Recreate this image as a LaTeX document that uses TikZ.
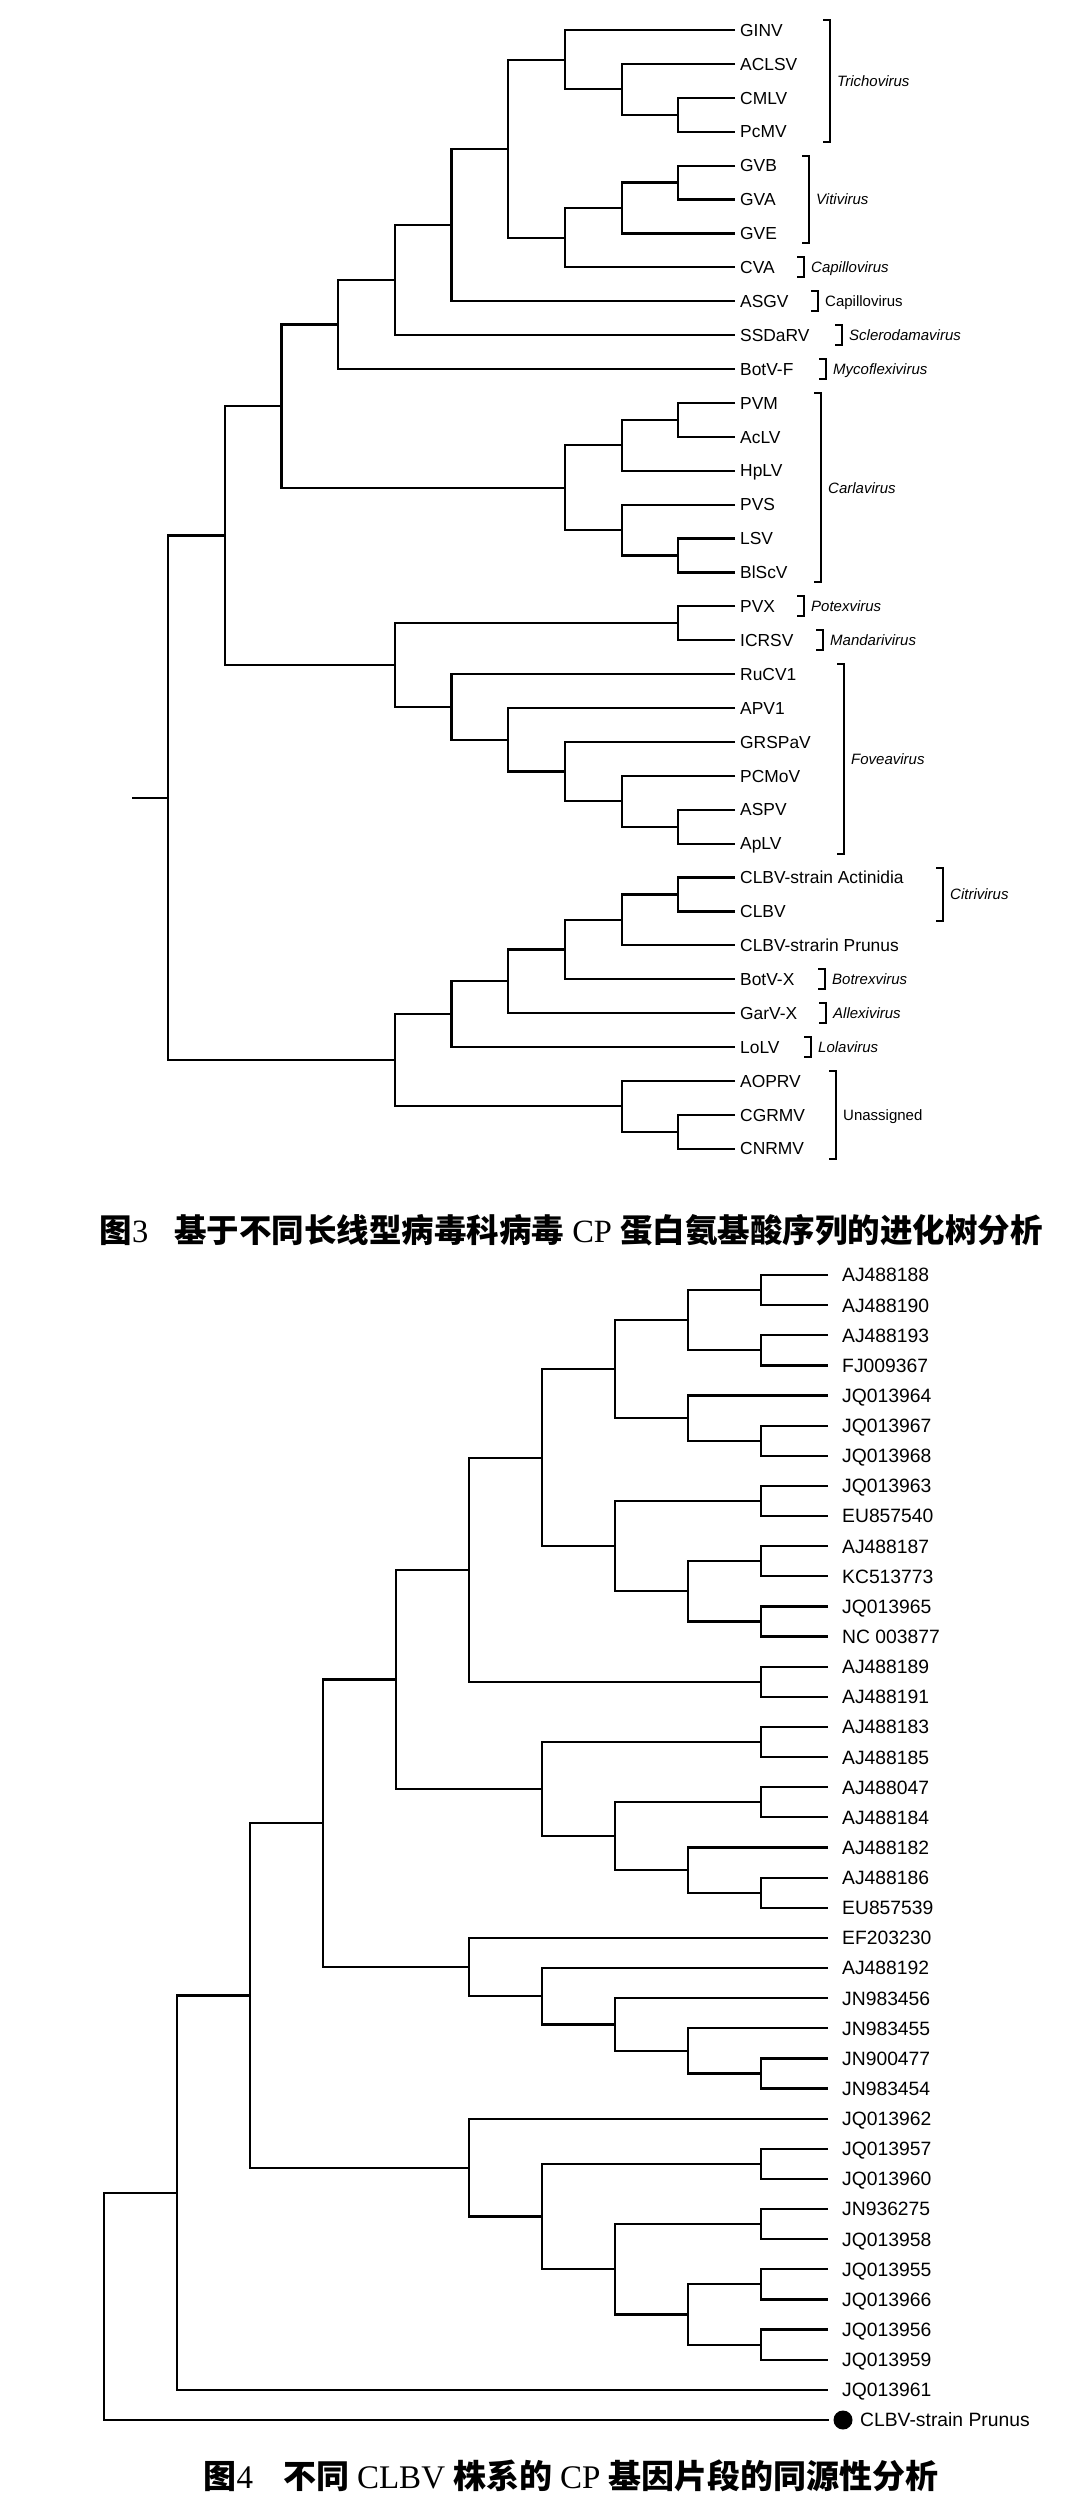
\documentclass[tikz,border=0pt]{standalone}
\usepackage{fontspec}
\setmainfont{Liberation Sans}
\newfontfamily\cjk{Noto Sans CJK SC}
\newfontfamily\tms{Liberation Serif}
\usetikzlibrary{calc,positioning}
\tikzset{branch/.style={line width=2.2pt},bracket/.style={line width=2pt},
leafa/.style={anchor=west,inner xsep=5pt,inner ysep=0pt,text height=12.5pt,text depth=0pt,font=\fontsize{17.4}{17.4}\selectfont},
leafb/.style={anchor=west,inner xsep=14pt,inner ysep=0pt,text height=13.8pt,text depth=0pt,font=\fontsize{19.3}{19.3}\selectfont},
genus/.style={anchor=west,inner sep=0pt,text height=10.7pt,text depth=0pt,font=\fontsize{15}{15}\selectfont\itshape},
upright/.style={font=\fontsize{15}{15}\selectfont\upshape},
caption/.style={anchor=base,inner sep=0pt}}
\newcommand\clade[4]{\path ($(#3)!.5!(#4)$) coordinate (m);\coordinate (#1) at (#2 |- m);\draw[branch] (#3) -| (#1) |- (#4);}
\newcommand\genus[6]{\coordinate (#1) at (#2,0);
\draw[bracket] ($(#1 |- #3)+(-7,-10)$) -- ($(#1 |- #3)+(0,-10)$) -- ($(#1 |- #4)+(0,10)$) -- ($(#1 |- #4)+(-7,10)$);
\node[genus,#5] (#1t) at ($(#1 |- #3)!.5!(#1 |- #4)+(7,0)$) {#6};}
\newcommand\lat[1]{{\tms\mdseries #1}}

\begin{document}
\begin{tikzpicture}[x=1pt,y=-1pt]
\fill[white] (0,0) rectangle (1083,2505);
\useasboundingbox (0,0) rectangle (1083,2505);
\foreach \k in {0,...,9}{\coordinate (A\k) at (168+56.7*\k,0);\coordinate (M\k) at (104+73*\k,0);}
% Fig. 3
\foreach \lab [count=\i] in {GINV,ACLSV,CMLV,PcMV,GVB,GVA,GVE,CVA,ASGV,SSDaRV,BotV-F,PVM,AcLV,HpLV,PVS,LSV,BlScV,PVX,ICRSV,RuCV1,APV1,GRSPaV,PCMoV,ASPV,ApLV,CLBV-strain Actinidia,CLBV,CLBV-strarin Prunus,BotV-X,GarV-X,LoLV,AOPRV,CGRMV,CNRMV}
{\node[leafa] (a\i) at (735,30+33.9*\i-33.9) {\lab};}
\clade{p1}{A9}{a3}{a4}\clade{p2}{A8}{a2}{p1}\clade{p3}{A7}{a1}{p2}
\clade{p4}{A9}{a5}{a6}\clade{p5}{A8}{p4}{a7}\clade{p6}{A7}{p5}{a8}
\clade{p7}{A6}{p3}{p6}\clade{p8}{A5}{p7}{a9}\clade{p9}{A4}{p8}{a10}\clade{p10}{A3}{p9}{a11}
\clade{p11}{A9}{a12}{a13}\clade{p12}{A8}{p11}{a14}\clade{p13}{A9}{a16}{a17}\clade{p14}{A8}{a15}{p13}
\clade{p15}{A7}{p12}{p14}\clade{p16}{A2}{p10}{p15}
\clade{p17}{A9}{a18}{a19}
\clade{p18}{A9}{a24}{a25}\clade{p19}{A8}{a23}{p18}\clade{p20}{A7}{a22}{p19}\clade{p21}{A6}{a21}{p20}\clade{p22}{A5}{a20}{p21}
\clade{p23}{A4}{p17}{p22}\clade{p24}{A1}{p16}{p23}
\clade{p25}{A9}{a26}{a27}\clade{p26}{A8}{p25}{a28}\clade{p27}{A7}{p26}{a29}\clade{p28}{A6}{p27}{a30}\clade{p29}{A5}{p28}{a31}
\clade{p30}{A9}{a33}{a34}\clade{p31}{A8}{a32}{p30}\clade{p32}{A4}{p29}{p31}
\clade{p33}{A0}{p24}{p32}
\coordinate (ra) at ($(p33)+(-36,0)$);\draw[branch] (ra) -- (p33);
\genus{g1}{830}{a1}{a4}{}{Trichovirus}\genus{g2}{809}{a5}{a7}{}{Vitivirus}
\genus{g3}{804}{a8}{a8}{}{Capillovirus}\genus{g4}{818}{a9}{a9}{upright}{Capillovirus}
\genus{g5}{842}{a10}{a10}{}{Sclerodamavirus}\genus{g6}{826}{a11}{a11}{}{Mycoflexivirus}
\genus{g7}{821}{a12}{a17}{}{Carlavirus}\genus{g8}{804}{a18}{a18}{}{Potexvirus}
\genus{g9}{823}{a19}{a19}{}{Mandarivirus}\genus{g10}{844}{a20}{a25}{}{Foveavirus}
\genus{g11}{943}{a26}{a27}{}{Citrivirus}\genus{g12}{825}{a29}{a29}{}{Botrexvirus}
\genus{g13}{826}{a30}{a30}{}{Allexivirus}\genus{g14}{811}{a31}{a31}{}{Lolavirus}
\genus{g15}{836}{a32}{a34}{upright}{Unassigned}
\node[caption,font=\fontsize{32.5}{32.5}\selectfont\cjk\bfseries] (cap3) at (571,1242) {图\lat{3}\hspace{26pt}基于不同长线型病毒科病毒\hspace{8pt}\lat{CP}\hspace{8pt}蛋白氨基酸序列的进化树分析};
% Fig. 4
\foreach \lab [count=\i] in {AJ488188,AJ488190,AJ488193,FJ009367,JQ013964,JQ013967,JQ013968,JQ013963,EU857540,AJ488187,KC513773,JQ013965,NC 003877,AJ488189,AJ488191,AJ488183,AJ488185,AJ488047,AJ488184,AJ488182,AJ488186,EU857539,EF203230,AJ488192,JN983456,JN983455,JN900477,JN983454,JQ013962,JQ013957,JQ013960,JN936275,JQ013958,JQ013955,JQ013966,JQ013956,JQ013959,JQ013961}
{\node[leafb] (b\i) at (828,1275+30.13*\i-30.13) {\lab};}
\node[circle,fill,inner sep=0pt,minimum size=19pt,outer sep=5pt] (b39) at (843,2420) {};
\node[leafb,inner xsep=0pt,right=2.5pt of b39] (b39t) {CLBV-strain Prunus};
\clade{q1}{M9}{b1}{b2}\clade{q2}{M9}{b3}{b4}\clade{q3}{M8}{q1}{q2}
\clade{q4}{M9}{b6}{b7}\clade{q5}{M8}{b5}{q4}\clade{q6}{M7}{q3}{q5}
\clade{q7}{M9}{b8}{b9}\clade{q8}{M9}{b10}{b11}\clade{q9}{M9}{b12}{b13}\clade{q10}{M8}{q8}{q9}\clade{q11}{M7}{q7}{q10}
\clade{q12}{M6}{q6}{q11}\clade{q13}{M9}{b14}{b15}\clade{q14}{M5}{q12}{q13}
\clade{q15}{M9}{b16}{b17}\clade{q16}{M9}{b18}{b19}\clade{q17}{M9}{b21}{b22}\clade{q18}{M8}{b20}{q17}
\clade{q19}{M7}{q16}{q18}\clade{q20}{M6}{q15}{q19}\clade{q21}{M4}{q14}{q20}
\clade{q22}{M9}{b27}{b28}\clade{q23}{M8}{b26}{q22}\clade{q24}{M7}{b25}{q23}\clade{q25}{M6}{b24}{q24}\clade{q26}{M5}{b23}{q25}
\clade{q27}{M3}{q21}{q26}
\clade{q28}{M9}{b30}{b31}\clade{q29}{M9}{b32}{b33}\clade{q30}{M9}{b34}{b35}\clade{q31}{M9}{b36}{b37}
\clade{q32}{M8}{q30}{q31}\clade{q33}{M7}{q29}{q32}\clade{q34}{M6}{q28}{q33}\clade{q35}{M5}{b29}{q34}
\clade{q36}{M2}{q27}{q35}\clade{q37}{M1}{q36}{b38}\clade{q38}{M0}{q37}{b39}
\node[caption,font=\fontsize{33}{33}\selectfont\cjk\bfseries] (cap4) at (571,2488) {图\lat{4}\hspace{30pt}不同\hspace{8pt}\lat{CLBV}\hspace{8pt}株系的\hspace{8pt}\lat{CP}\hspace{8pt}基因片段的同源性分析};
\end{tikzpicture}
\end{document}
